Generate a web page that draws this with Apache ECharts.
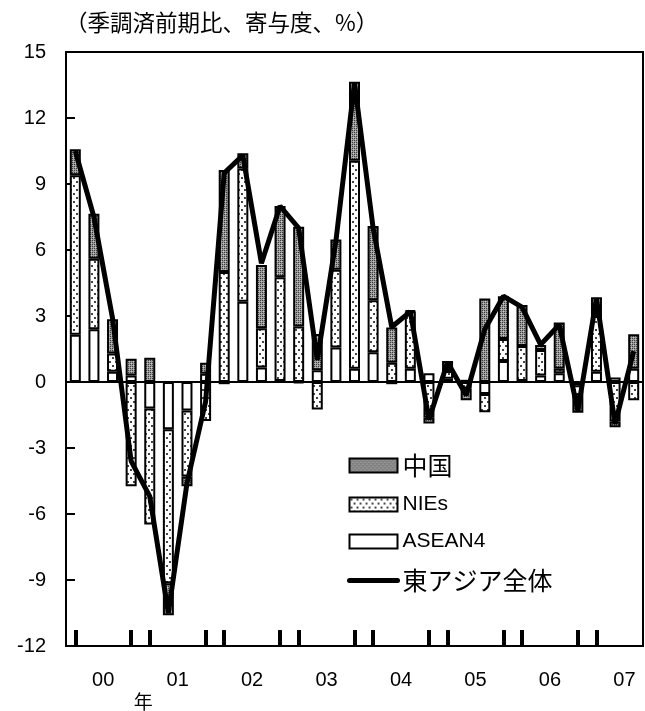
<!DOCTYPE html>
<html>
<head>
<meta charset="utf-8">
<script src="https://cdn.jsdelivr.net/npm/echarts@6/dist/echarts.min.js"></script>
<style>
html,body{margin:0;padding:0;background:#fff;}
#chart{width:645px;height:711px;}
</style>
</head>
<body>
<div id="chart"></div>
<script>
// ---- data ----
const quarters = ['00Q1','00Q2','00Q3','00Q4','01Q1','01Q2','01Q3','01Q4','02Q1','02Q2','02Q3','02Q4','03Q1','03Q2','03Q3','03Q4','04Q1','04Q2','04Q3','04Q4','05Q1','05Q2','05Q3','05Q4','06Q1','06Q2','06Q3','06Q4','07Q1','07Q2','07Q3'];
const yearLabels = ['00','01','02','03','04','05','06','07'];
const asean4 = [2.15, 2.4, 0.47, 0.3, -1.2, -2.15, -1.3, 0.38, -0.1, 3.65, 0.66, 0.05, -0.05, 0.53, 1.57, 0.6, 1.35, -0.1, 0.6, 0.4, 0.15, 0.1, -0.55, 0.95, 0.05, 0.3, 0.4, -0.15, 0.47, 0.2, 0.6];
const nies = [7.25, 3.2, 0.83, -4.74, -5.28, -7.0, -3.0, -1.77, 5.0, 6.05, 1.78, 4.71, 2.52, -1.25, 3.53, 9.46, 2.37, 0.88, 2.6, -1.63, 0.35, -0.3, -0.83, 1.0, 1.59, 1.15, 0.2, -0.45, 2.53, -1.8, -0.83];
const china = [1.18, 2.05, 1.55, 0.76, 1.1, -1.45, -0.44, 0.49, 4.64, 0.7, 2.88, 3.24, 4.54, 1.65, 1.38, 3.59, 3.37, 1.6, 0.05, -0.26, 0.45, -0.53, 3.8, 1.95, 1.86, 0.23, 2.1, -0.8, 0.85, -0.26, 1.57];
const eastAsia = [10.5, 7.5, 2.9, -3.6, -5.2, -10.5, -4.6, -0.9, 9.5, 10.3, 5.4, 8.0, 7.0, 1.0, 6.4, 13.6, 7.0, 2.5, 3.2, -1.7, 0.9, -0.6, 2.4, 3.9, 3.4, 1.7, 2.6, -1.3, 3.8, -1.9, 1.4];
const legendNames = ['中国', 'NIEs', 'ASEAN4', '東アジア全体'];

// ---- patterns ----
function chinaPattern(){
  const c = document.createElement('canvas'); c.width = 4; c.height = 4;
  const g = c.getContext('2d');
  g.fillStyle = '#9c9c9c'; g.fillRect(0,0,4,4);
  g.fillStyle = '#3a3a3a';
  g.fillRect(0,0,1,1); g.fillRect(2,2,1,1); g.fillRect(2,0,1,1); g.fillRect(0,2,1,1);
  g.fillStyle = '#c8c8c8';
  g.fillRect(1,1,1,1); g.fillRect(3,3,1,1);
  return {image: c, repeat: 'repeat'};
}
function niesPattern(){
  const c = document.createElement('canvas'); c.width = 6; c.height = 8;
  const g = c.getContext('2d');
  g.fillStyle = '#ffffff'; g.fillRect(0,0,6,8);
  g.fillStyle = '#444444';
  g.fillRect(1,1,2,2); g.fillRect(4,5,2,2);
  return {image: c, repeat: 'repeat'};
}

const latin = "'Liberation Sans', 'Noto Sans CJK JP', sans-serif";
const cjk = "'Noto Sans CJK JP', 'Liberation Sans', sans-serif";

const chart = echarts.init(document.getElementById('chart'), null, {renderer: 'canvas'});
const barBase = {
  type: 'bar', stack: 'total', barWidth: 11, xAxisIndex: 0, yAxisIndex: 0,
  emphasis: {disabled: true}
};
chart.setOption({
  animation: false,
  backgroundColor: '#fff',
  title: {
    text: '（季調済前期比、寄与度、%）',
    left: 60, top: 6,
    textStyle: {fontFamily: cjk, fontSize: 22.5, fontWeight: 'normal', color: '#000'}
  },
  grid: {
    left: 66, right: 2, top: 52, bottom: 64,
    show: true, borderColor: '#000', borderWidth: 2, backgroundColor: 'transparent'
  },
  legend: {
    orient: 'vertical', left: 342, top: 448,
    itemWidth: 48, itemHeight: 14, itemGap: 16,
    data: [
      {name: legendNames[0], icon: 'rect'},
      {name: legendNames[1], icon: 'rect'},
      {name: legendNames[2], icon: 'rect'},
      {name: legendNames[3], itemStyle: {opacity: 0}, lineStyle: {width: 5, cap: 'round', opacity: 1}}
    ],
    formatter: function (n) {
      return /^[A-Za-z0-9]+$/.test(n) ? '{l|' + n + '}' : '{c|' + n + '}';
    },
    textStyle: {
      color: '#000',
      rich: {
        l: {fontFamily: latin, fontSize: 21, color: '#000'},
        c: {fontFamily: cjk, fontSize: 25, color: '#000'}
      }
    },
    selectedMode: false
  },
  xAxis: [{
    type: 'category', data: quarters, position: 'bottom',
    axisLine: {onZero: false, lineStyle: {color: '#000', width: 2}},
    axisTick: {
      show: true, inside: true, alignWithLabel: true, length: 16,
      interval: function (i) { return i === 0 || i % 4 === 0 || i % 4 === 3; },
      lineStyle: {color: '#000', width: 4}
    },
    axisLabel: {
      interval: function (i) { return i % 4 === 1; },
      formatter: function (v, i) { return yearLabels[Math.floor(i / 4)]; },
      padding: [0, 0, 0, 18.6],
      margin: 24, fontFamily: latin, fontSize: 20, color: '#000'
    },
    splitLine: {show: false}
  }, {
    type: 'category', data: quarters, position: 'bottom',
    axisLine: {show: false, onZero: false},
    axisTick: {show: false},
    axisLabel: {
      interval: function (i) { return i === 3; },
      formatter: function () { return '年'; },
      padding: [0, 0, 0, 24],
      margin: 46, fontFamily: cjk, fontSize: 19, color: '#000'
    },
    splitLine: {show: false}
  }],
  yAxis: {
    type: 'value', min: -12, max: 15, interval: 3,
    axisLine: {show: true, lineStyle: {color: '#000', width: 2}},
    axisTick: {show: true, inside: true, length: 9, lineStyle: {color: '#000', width: 2}},
    axisLabel: {margin: 20, fontFamily: latin, fontSize: 20, color: '#000'},
    splitLine: {show: false}
  },
  series: [
    Object.assign({}, barBase, {
      name: 'ASEAN4', data: asean4,
      itemStyle: {color: '#ffffff', borderColor: '#000', borderWidth: 2},
      markLine: {
        silent: true, symbol: 'none', label: {show: false},
        lineStyle: {color: '#000', width: 2, type: 'solid'},
        data: [{yAxis: 0}]
      }
    }),
    Object.assign({}, barBase, {
      name: 'NIEs', data: nies,
      itemStyle: {color: niesPattern(), borderColor: '#000', borderWidth: 2}
    }),
    Object.assign({}, barBase, {
      name: '中国', data: china,
      itemStyle: {color: chinaPattern(), borderColor: '#000', borderWidth: 2}
    }),
    {
      name: '東アジア全体', type: 'line', data: eastAsia,
      xAxisIndex: 0, yAxisIndex: 0,
      symbol: 'circle', showSymbol: false, z: 5,
      lineStyle: {color: '#000', width: 5},
      itemStyle: {color: '#000'},
      emphasis: {disabled: true}
    }
  ]
});
</script>
</body>
</html>
